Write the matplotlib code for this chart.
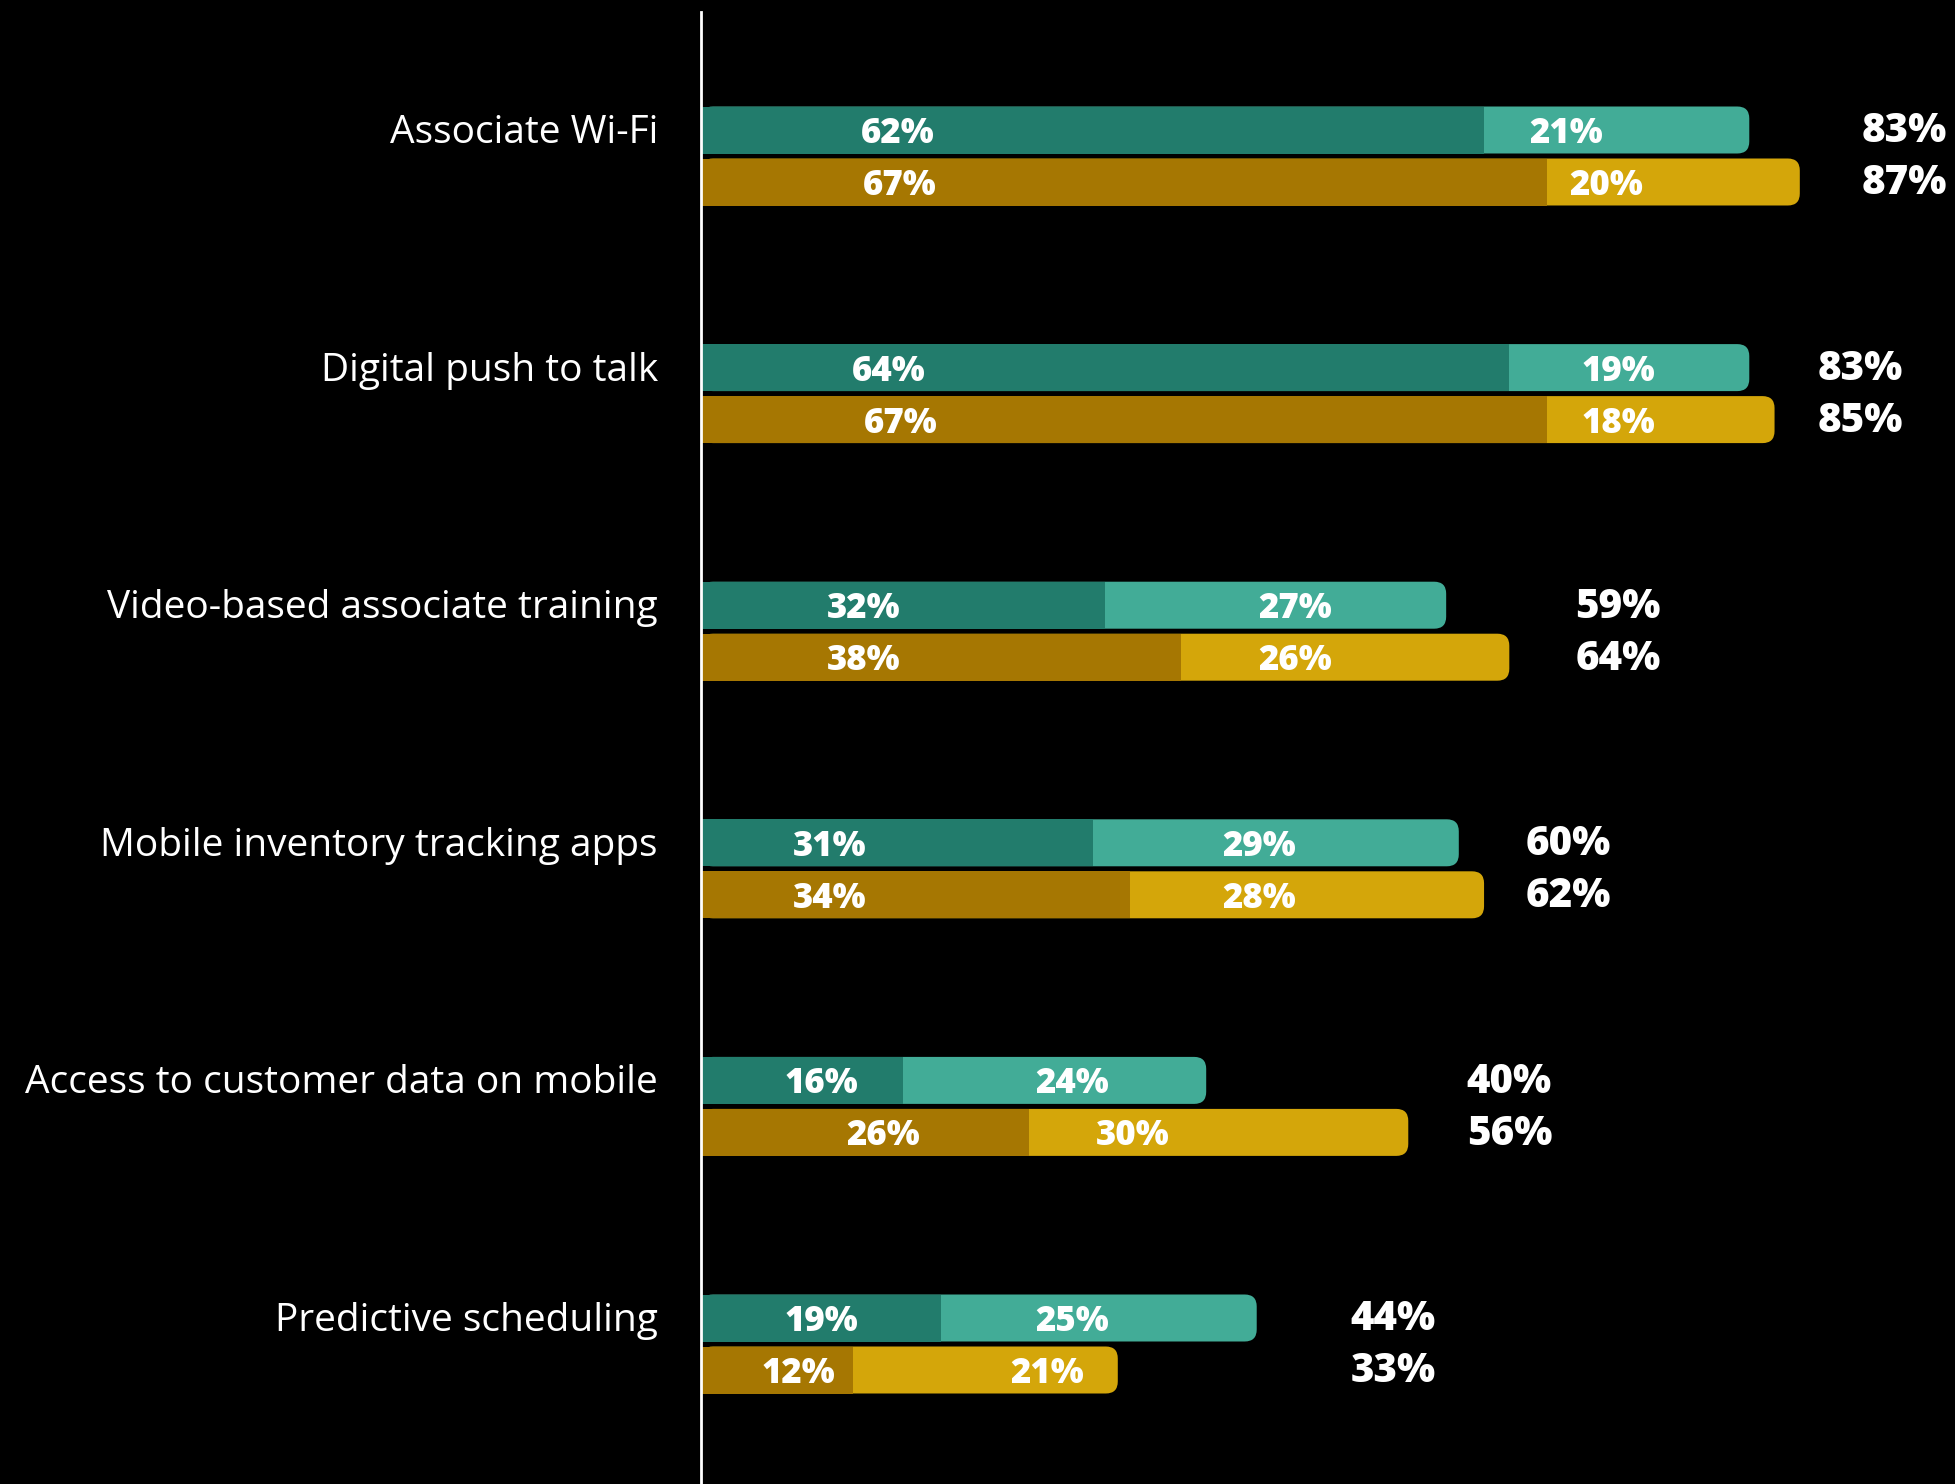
import numpy as np
import matplotlib.pyplot as plt
from matplotlib.patches import FancyBboxPatch

categories = ["Associate Wi-Fi", "Digital push to talk", "Video-based associate training",
              "Mobile inventory tracking apps", "Access to customer data on mobile",
              "Predictive scheduling"]
teal_dark = [62, 64, 32, 31, 16, 19]
teal_light = [21, 19, 27, 29, 24, 25]
gold_dark = [67, 67, 38, 34, 26, 12]
gold_light = [20, 18, 26, 28, 30, 21]

# where the labels sit (in % units)
dark_lab_x = [[15.6, 15.7], [14.9, 15.8], [12.9, 12.9], [10.2, 10.2], [9.5, 14.4], [9.5, 7.7]]
light_lab_x = [[68.5, 71.7], [72.6, 72.6], [47.0, 47.0], [44.2, 44.2], [29.4, 34.2], [29.4, 27.4]]
total_lab_x = [95.3, 91.8, 72.6, 68.7, 64.0, 54.8]

colors = {"teal": ("#227C6C", "#42AC97"), "gold": ("#A67702", "#D4A60A")}

W, H = 1955, 1484
x0 = 701          # pixel of 0%
px_per = 12.63    # pixels per percent

fig = plt.figure(figsize=(W / 100, H / 100), dpi=100, facecolor="black")
ax = fig.add_axes([0, 0, 1, 1])
ax.set_facecolor("black")
ax.set_xlim(-x0 / px_per, (W - x0) / px_per)
ax.set_ylim(H, 0)
ax.axis("off")

ax.plot([0, 0], [12, H], color="white", lw=2)

bh = 47
r = 12 / px_per
for i, cat in enumerate(categories):
    yc = 156 + 237.6 * i
    ax.text(-43 / px_per, yc - 23, cat, ha="right", va="center", color="white",
            fontsize=28, family="Open Sans")
    rows = [("teal", teal_dark[i], teal_light[i], yc - 26),
            ("gold", gold_dark[i], gold_light[i], yc + 26)]
    for j, (key, d, l, y) in enumerate(rows):
        dk, lt = colors[key]
        tot = d + l
        p = FancyBboxPatch((0, y - bh / 2), tot, bh,
                           boxstyle=f"round,pad=0,rounding_size={r}",
                           mutation_aspect=px_per, fc=lt, ec="none")
        ax.add_patch(p)
        ax.barh(y, d, height=bh, left=0, color=dk, edgecolor="none")
        ax.text(dark_lab_x[i][j], y + 4, f"{d}%", ha="center", va="center",
                color="white", fontsize=25, family="Open Sans", fontweight="heavy")
        ax.text(light_lab_x[i][j], y + 4, f"{l}%", ha="center", va="center",
                color="white", fontsize=25, family="Open Sans", fontweight="heavy")
        ax.text(total_lab_x[i], y + 2, f"{tot}%", ha="center", va="center",
                color="white", fontsize=29, family="Open Sans", fontweight="heavy")

fig.savefig("out.png", dpi=100, facecolor="black")
